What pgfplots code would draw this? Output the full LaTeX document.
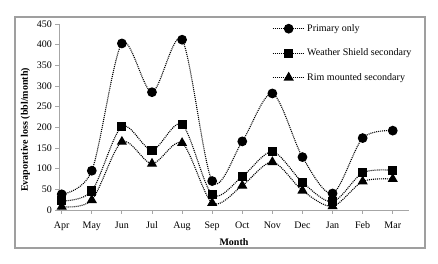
\documentclass[border=0pt]{standalone}
\usepackage{fontspec}
\setmainfont{Liberation Serif}
\usepackage{pgfplots}
\pgfplotsset{compat=1.18}
\begin{document}
\begin{tikzpicture}
\begin{axis}[
  scale only axis, width=349.4pt, height=186pt,
  xmin=-0.08, xmax=11.53, ymin=0, ymax=450,
  axis lines*=left,
  axis line style={draw=gray!70, -, line width=0.8pt},
  xtick={0,...,11},
  xticklabels={Apr,May,Jun,Jul,Aug,Sep,Oct,Nov,Dec,Jan,Feb,Mar},
  ytick={0,50,...,450},
  tick style={draw=gray!70, line width=0.8pt},
  tick align=outside, major tick length=4pt,
  /pgf/number format/assume math mode=true,
  tick label style={font=\fontsize{10}{12}\selectfont},
  xticklabel style={yshift=-4pt},
  every axis y label/.style={at={(axis description cs:-0.097,0.43)}, rotate=90, anchor=center},
  every axis x label/.style={at={(axis description cs:0.5,-0.172)}, anchor=center},
  ylabel={\bfseries Evaporative loss (bbl/month)},
  xlabel={\bfseries Month},
  label style={font=\fontsize{10}{12}\selectfont},
  legend style={draw=none, fill=none, at={(rel axis cs:0.60,1.02)}, anchor=north west,
    row sep=12pt, font=\fontsize{10}{12}\selectfont},
  legend cell align=left,
  legend image code/.code={\draw[mark repeat=2,mark phase=2,#1] plot coordinates {(0pt,0pt)(16pt,0pt)(32pt,0pt)};},
]
\addplot[black, dash pattern=on 1pt off 1pt, line width=1.1pt, smooth, tension=0.5,
  mark=*, mark options={solid, mark size=4.3pt}] coordinates {
(0,38) (1,95) (2,403) (3,285) (4,412) (5,70) (6,166) (7,282) (8,128) (9,40) (10,174) (11,192)};
\addlegendentry{Primary only}
\addplot[black, dash pattern=on 1pt off 1pt, line width=1.1pt, smooth, tension=0.5,
  mark=square*, mark options={solid, mark size=4pt}] coordinates {
(0,22) (1,46) (2,202) (3,145) (4,207) (5,37) (6,81) (7,141) (8,67) (9,20) (10,90) (11,96)};
\addlegendentry{Weather Shield secondary}
\addplot[black, dash pattern=on 1pt off 1pt, line width=1.1pt, smooth, tension=0.5,
  mark=triangle*, mark options={solid, mark size=4.8pt}] coordinates {
(0,8) (1,24) (2,165) (3,112) (4,162) (5,17) (6,59) (7,116) (8,47) (9,9) (10,69) (11,75)};
\addlegendentry{Rim mounted secondary}
\end{axis}
\pgfresetboundingbox
\useasboundingbox ([xshift=-59.3pt,yshift=-54pt]current axis.south west) rectangle ([xshift=29.3pt,yshift=24pt]current axis.north east);
\draw[gray!75, line width=1.2pt] ([xshift=-44.3pt,yshift=-38pt]current axis.south west) rectangle ([xshift=16.3pt,yshift=7pt]current axis.north east);
\end{tikzpicture}
\end{document}
